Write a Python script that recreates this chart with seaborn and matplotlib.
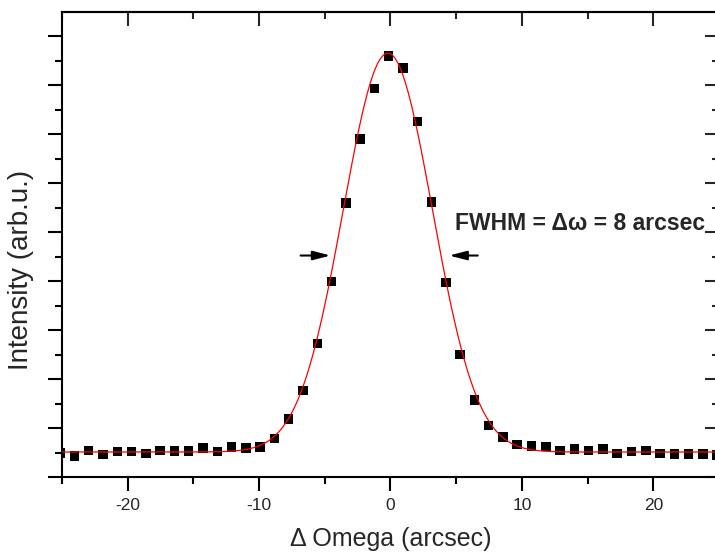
import numpy as np
import pandas as pd
import matplotlib
matplotlib.use('Agg')
import matplotlib.pyplot as plt
import seaborn as sns
from matplotlib.ticker import MultipleLocator, FixedLocator, NullFormatter

# ---- data ----
omega = [-25.14, -24.05, -22.97, -21.88, -20.79, -19.70, -18.62, -17.53, -16.44, -15.36,
         -14.27, -13.18, -12.10, -11.01, -9.92, -8.84, -7.75, -6.66, -5.57, -4.49,
         -3.40, -2.31, -1.23, -0.14, 0.95, 2.04, 3.12, 4.21, 5.30, 6.38,
         7.47, 8.56, 9.64, 10.73, 11.82, 12.91, 13.99, 15.08, 16.17, 17.25,
         18.34, 19.43, 20.51, 21.60, 22.69, 23.77, 24.86]
intensity = [0.49, 0.43, 0.54, 0.46, 0.52, 0.52, 0.48, 0.54, 0.53, 0.53,
             0.59, 0.52, 0.61, 0.59, 0.61, 0.79, 1.18, 1.77, 2.73, 3.99,
             5.59, 6.90, 7.93, 8.59, 8.35, 7.25, 5.61, 3.97, 2.50, 1.57,
             1.05, 0.82, 0.66, 0.63, 0.62, 0.54, 0.57, 0.54, 0.57, 0.48,
             0.52, 0.54, 0.48, 0.47, 0.47, 0.47, 0.45]

# Gaussian fit parameters
fit_y0 = 0.51
fit_amp = 8.14
fit_xc = -0.2
fit_fwhm = 8.0

xticks = [-20, -10, 0, 10, 20]
xtick_labels = ['-20', '-10', '0', '10', '20']

annotation = 'FWHM = \u0394\u03c9 = 8 arcsec'
xlabel = '\u0394 Omega (arcsec)'
ylabel = 'Intensity (arb.u.)'

# ---- style ----
sns.set_style('ticks')
plt.rcParams['font.family'] = ['Liberation Sans', 'DejaVu Sans']

fig = plt.figure(figsize=(7.15, 5.52), dpi=100)
ax = fig.add_axes([62 / 715, 1 - 477 / 552, 657 / 715, 465 / 552])

df = pd.DataFrame({'omega': omega, 'intensity': intensity})
x_fit = np.linspace(-25, 25, 801)
sigma = fit_fwhm / (2 * np.sqrt(2 * np.log(2)))
y_fit = fit_y0 + fit_amp * np.exp(-(x_fit - fit_xc) ** 2 / (2 * sigma ** 2))
fit_df = pd.DataFrame({'omega': x_fit, 'intensity': y_fit})

sns.scatterplot(data=df, x='omega', y='intensity', marker='s', s=46,
                color='black', edgecolor='none', linewidth=0, ax=ax, zorder=2)
sns.lineplot(data=fit_df, x='omega', y='intensity', color='red', lw=0.9,
             ax=ax, zorder=3)

ax.set_xlim(-25, 25)
ax.set_ylim(0, 9.49)

ax.xaxis.set_major_locator(FixedLocator(xticks))
ax.set_xticklabels(xtick_labels)
ax.xaxis.set_minor_locator(MultipleLocator(5))
ax.yaxis.set_major_locator(MultipleLocator(1))
ax.yaxis.set_minor_locator(MultipleLocator(0.5))
ax.yaxis.set_major_formatter(NullFormatter())

ax.tick_params(which='major', direction='out', length=10, width=1.5,
               labelsize=12.5, pad=5, top=False, right=False, color='black')
ax.tick_params(which='minor', direction='out', length=5, width=1.5,
               top=False, right=False, color='black')
for sp in ax.spines.values():
    sp.set_linewidth(1.5)
    sp.set_color('black')

# top / right inward ticks
secx = ax.secondary_xaxis('top')
secx.xaxis.set_major_locator(FixedLocator(xticks))
secx.xaxis.set_minor_locator(MultipleLocator(5))
secx.tick_params(which='major', direction='in', length=10, width=1.5, labeltop=False)
secx.tick_params(which='minor', direction='in', length=5, width=1.5, labeltop=False)
secx.spines['top'].set_linewidth(1.5)

secy = ax.secondary_yaxis('right')
secy.yaxis.set_major_locator(MultipleLocator(1))
secy.yaxis.set_minor_locator(MultipleLocator(0.5))
secy.tick_params(which='major', direction='in', length=10, width=1.5, labelright=False)
secy.tick_params(which='minor', direction='in', length=5, width=1.5, labelright=False)
secy.spines['right'].set_linewidth(1.5)

ax.set_xlabel(xlabel, fontsize=18, labelpad=10)
ax.set_ylabel(ylabel, fontsize=20)
ax.yaxis.set_label_coords(-0.042, 0.445)

# arrows + annotation
arrow_y = 4.52
ax.annotate('', xy=(-4.56, arrow_y), xytext=(-6.84, arrow_y),
            arrowprops=dict(arrowstyle='-|>,head_length=0.7,head_width=0.18',
                            color='black', lw=1.5, mutation_scale=15,
                            shrinkA=0, shrinkB=0))
ax.annotate('', xy=(4.46, arrow_y), xytext=(6.64, arrow_y),
            arrowprops=dict(arrowstyle='-|>,head_length=0.7,head_width=0.18',
                            color='black', lw=1.5, mutation_scale=15,
                            shrinkA=0, shrinkB=0))
ax.text(4.91, 5.04, annotation, fontsize=16.5, fontweight='bold',
        ha='left', va='baseline')

fig.savefig('out.png', dpi=100)
